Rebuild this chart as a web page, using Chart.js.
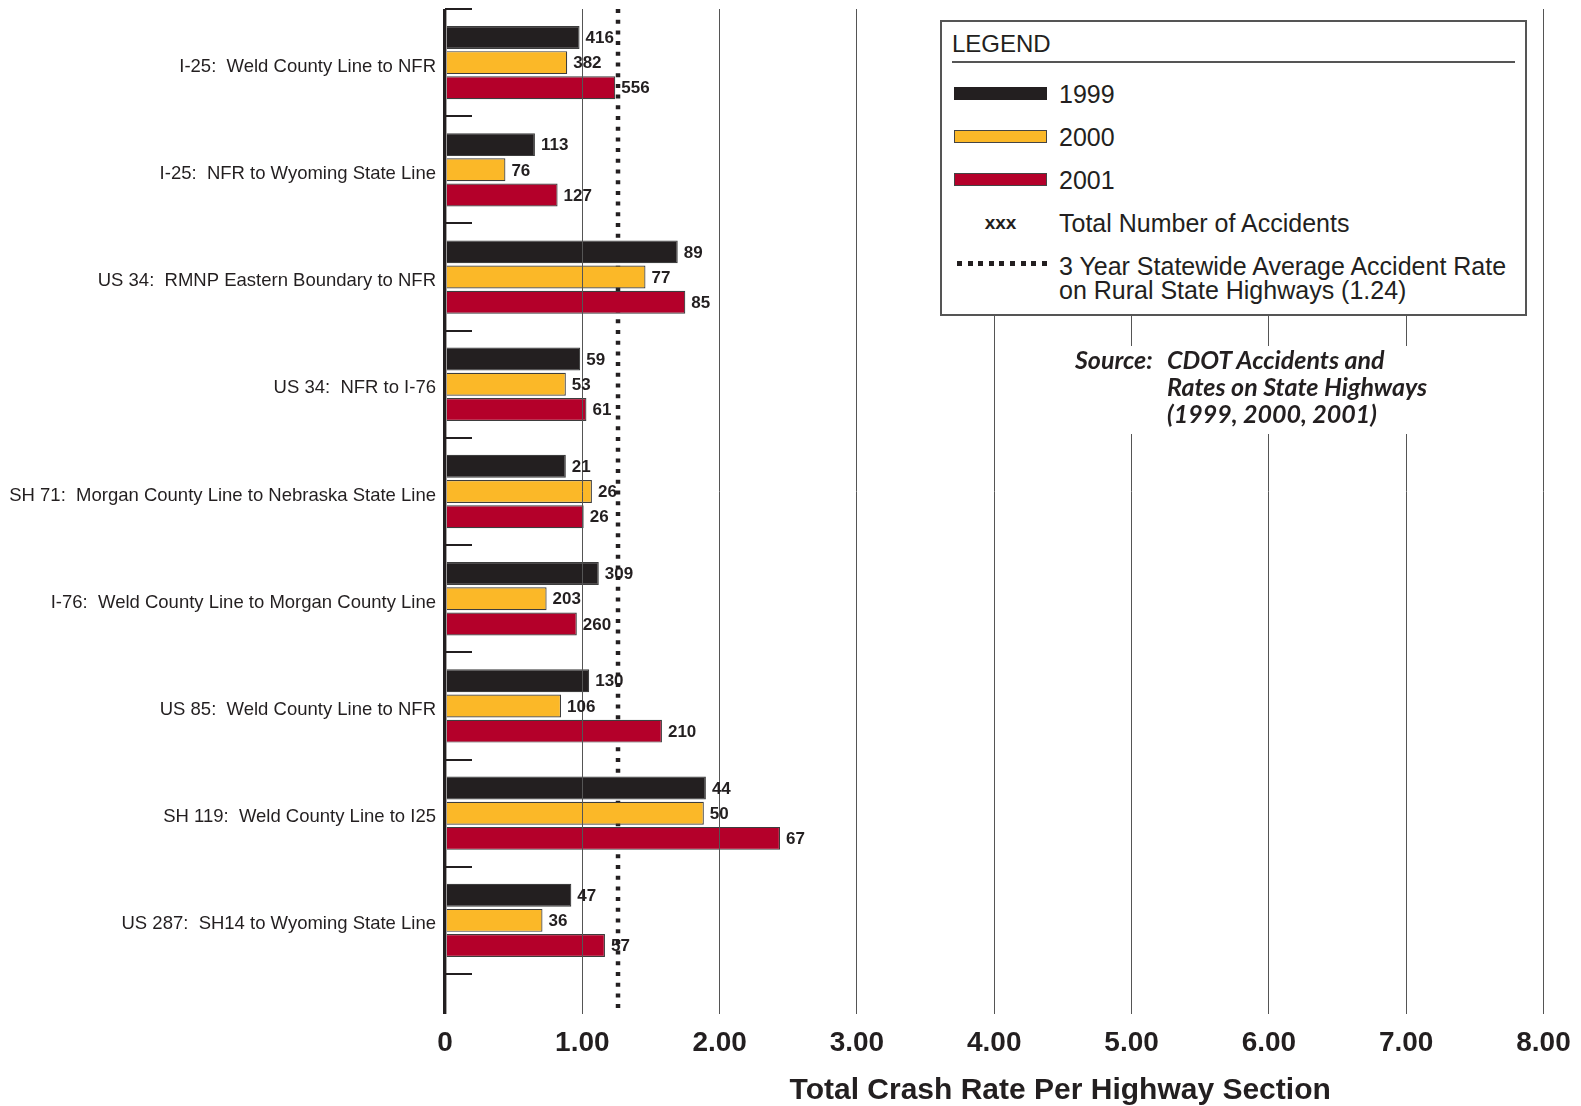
<!DOCTYPE html>
<html>
<head>
<meta charset="utf-8">
<script src="https://cdn.jsdelivr.net/npm/chart.js@4"></script>
<style>
  body { margin: 0; background: #fff; }
  #wrap { position: relative; width: 1581px; height: 1106px; }
  #chart { position: absolute; left: 0; top: 0; }
  #legendCover { position: absolute; left: 940px; top: 0; width: 587px; height: 22px; background: #fff; }
  #legend { position: absolute; left: 940px; top: 20px; width: 587px; height: 296px; background: #fff; border: 2px solid #555; box-sizing: border-box; font-family: "Liberation Sans", Arial, sans-serif; color: #231f20; }
  #legend .title { position: absolute; left: 10px; top: 8px; font-size: 24px; }
  #legend .rule { position: absolute; left: 10px; right: 10px; top: 39px; height: 2px; background: #555; }
  #legend .row { position: absolute; left: 12px; height: 30px; }
  #legend .sw { position: absolute; left: 0; width: 93px; height: 13px; box-sizing: border-box; border: 1px solid #444; }
  #legend .txt { position: absolute; left: 105px; font-size: 25px; line-height: 24px; white-space: nowrap; }
  #source { position: absolute; left: 1069px; top: 346px; width: 375px; height: 88px; background: #fff; font-family: Lato, "DejaVu Sans", sans-serif; font-style: italic; font-weight: 700; font-size: 25px; line-height: 27px; color: #231f20; }
</style>
</head>
<body>
<div id="wrap">
  <canvas id="chart" width="1581" height="1106"></canvas>
  <div id="legendCover"></div>
  <div id="legend"></div>
  <div id="source"></div>
</div>
<script>
const sections = [
  'I-25:  Weld County Line to NFR',
  'I-25:  NFR to Wyoming State Line',
  'US 34:  RMNP Eastern Boundary to NFR',
  'US 34:  NFR to I-76',
  'SH 71:  Morgan County Line to Nebraska State Line',
  'I-76:  Weld County Line to Morgan County Line',
  'US 85:  Weld County Line to NFR',
  'SH 119:  Weld County Line to I25',
  'US 287:  SH14 to Wyoming State Line'
];
const years = ['1999', '2000', '2001'];

// crash rate per section
const rate1999 = [0.98, 0.655, 1.695, 0.985, 0.88, 1.12, 1.05, 1.90, 0.92];
const rate2000 = [0.89, 0.44, 1.46, 0.88, 1.07, 0.74, 0.845, 1.885, 0.71];
const rate2001 = [1.24, 0.82, 1.75, 1.03, 1.01, 0.96, 1.58, 2.44, 1.165];

// total number of accidents (bar labels)
const count1999 = [416, 113, 89, 59, 21, 309, 130, 44, 47];
const count2000 = [382, 76, 77, 53, 26, 203, 106, 50, 36];
const count2001 = [556, 127, 85, 61, 26, 260, 210, 67, 57];

const avgRate = 1.26;       // dotted statewide average line as drawn
const avgLabel = '1.24';
const xTicks = [0, 1, 2, 3, 4, 5, 6, 7, 8];
const xTitle = 'Total Crash Rate Per Highway Section';
const sourceLines = ['CDOT Accidents and', 'Rates on State Highways', '(1999, 2000, 2001)'];

const INK = '#231f20';
const colors = ['#231f20', '#fbb828', '#b4002a'];
const rates  = [rate1999, rate2000, rate2001];
const counts = [count1999, count2000, count2001];

const datasets = years.map((y, i) => ({
  label: y, data: rates[i], counts: counts[i],
  backgroundColor: colors[i], borderColor: '#3d3d3d', borderWidth: 1.2,
  categoryPercentage: 0.705, barPercentage: 0.91
}));

const extras = {
  id: 'extras',
  beforeDatasetsDraw(chart) {
    const { ctx, scales: { x }, chartArea } = chart;
    const px = x.getPixelForValue(avgRate);
    ctx.save();
    ctx.strokeStyle = INK; ctx.lineWidth = 4.5; ctx.setLineDash([4, 6.7]);
    ctx.beginPath(); ctx.moveTo(px, chartArea.top); ctx.lineTo(px, chartArea.bottom + 40); ctx.stroke();
    ctx.restore();
  },
  afterDraw(chart) {
    const { ctx, scales: { x, y } } = chart;
    ctx.save();
    // short separators between sections
    ctx.strokeStyle = INK; ctx.lineWidth = 2;
    const x0 = x.getPixelForValue(0);
    for (let i = 0; i <= sections.length; i++) {
      const py = Math.round(y.getPixelForValue(i - 0.5));
      ctx.beginPath(); ctx.moveTo(x0, py); ctx.lineTo(x0 + 27, py); ctx.stroke();
    }
    // accident counts at bar ends
    ctx.fillStyle = INK; ctx.font = 'bold 17px "Liberation Sans", Arial, sans-serif';
    ctx.textBaseline = 'middle'; ctx.textAlign = 'left';
    chart.data.datasets.forEach((ds, di) => {
      chart.getDatasetMeta(di).data.forEach((bar, i) => {
        ctx.fillText(String(ds.counts[i]), bar.x + 6, bar.y + 1);
      });
    });
    // axis title
    ctx.font = 'bold 30px "Liberation Sans", Arial, sans-serif';
    ctx.textAlign = 'center'; ctx.textBaseline = 'alphabetic';
    ctx.fillText(xTitle, x.getPixelForValue(4.48), 1099);
    ctx.restore();
  }
};

new Chart(document.getElementById('chart'), {
  type: 'bar',
  data: { labels: sections, datasets },
  options: {
    indexAxis: 'y', responsive: false, animation: false,
    layout: { padding: { top: 9, right: 37.5, left: 0, bottom: 0 } },
    plugins: { legend: { display: false }, tooltip: { enabled: false } },
    scales: {
      x: {
        min: 0, max: 8,
        afterBuildTicks: s => { s.ticks = xTicks.map(v => ({ value: v })); },
        afterFit: s => { s.height = 132; s.paddingRight = 0; s.paddingLeft = 0; },
        border: { display: false },
        grid: {
          z: 1, tickLength: 40,
          color: c => c.tick && c.tick.value === 0 ? INK : '#555',
          tickColor: c => c.tick && c.tick.value === 0 ? INK : '#555',
          lineWidth: c => c.tick && c.tick.value === 0 ? 3.4 : 1
        },
        ticks: {
          padding: 12, color: INK, maxRotation: 0,
          font: { family: '"Liberation Sans", Arial, sans-serif', size: 28, weight: 'bold' },
          callback: v => v === 0 ? '0' : v.toFixed(2)
        }
      },
      y: {
        afterFit: s => { s.width = 445; s.paddingTop = 0; s.paddingBottom = 0; },
        grid: { display: false, drawTicks: false },
        border: { display: false },
        ticks: {
          padding: 9, labelOffset: 4, color: INK, autoSkip: false,
          font: { family: '"Liberation Sans Narrow", "Arial Narrow", sans-serif', size: 18.5 }
        }
      }
    }
  },
  plugins: [extras]
});

// legend and source note, built from the same arrays
const lg = document.getElementById('legend');
let html = '<div class="title">LEGEND</div><div class="rule"></div>';
const rowTop = [58, 101, 144];
years.forEach((y, i) => {
  html += `<div class="row" style="top:${rowTop[i]}px"><div class="sw" style="top:7px;background:${colors[i]};border-color:${i === 0 ? colors[0] : '#444'}"></div><div class="txt" style="top:2px">${y}</div></div>`;
});
html += `<div class="row" style="top:187px"><div style="position:absolute;left:0;width:93px;text-align:center;top:3px;font-weight:bold;font-size:19px">xxx</div><div class="txt" style="top:2px">Total Number of Accidents</div></div>`;
html += `<div class="row" style="top:230px"><div style="position:absolute;left:3px;width:90px;top:9px;height:5px;background:repeating-linear-gradient(90deg,${INK} 0 5px,transparent 5px 10.6px)"></div><div class="txt" style="top:2px">3 Year Statewide Average Accident Rate<br>on Rural State Highways (${avgLabel})</div></div>`;
lg.innerHTML = html;

const src = document.getElementById('source');
src.innerHTML = `<div style="position:absolute;left:6px;top:0">Source:</div>` +
  sourceLines.map((t, i) => `<div style="position:absolute;left:98px;top:${i * 27}px;white-space:nowrap">${t}</div>`).join('');
</script>
</body>
</html>
